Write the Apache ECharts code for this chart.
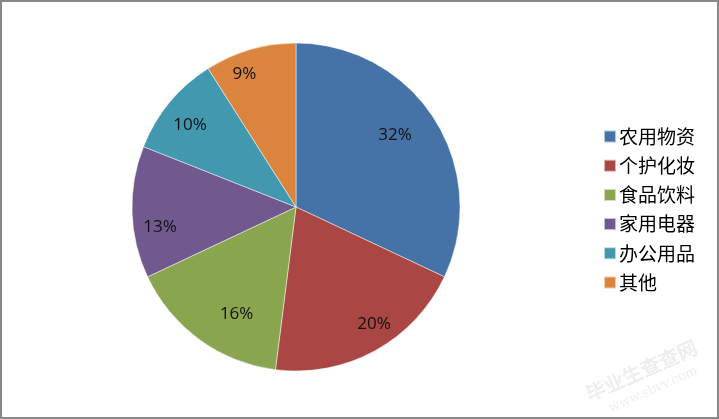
<!DOCTYPE html>
<html>
<head>
<meta charset="utf-8">
<script src="https://cdn.jsdelivr.net/npm/echarts@6/dist/echarts.min.js"></script>
<style>
html,body{margin:0;padding:0;background:#fff;}
#chart{position:absolute;left:0;top:0;width:719px;height:419px;}
#frame{position:absolute;left:0;top:0;width:719px;height:419px;box-sizing:border-box;border:2px solid #888;pointer-events:none;}
</style>
</head>
<body>
<div id="chart"></div>
<div id="frame"></div>
<script>
const categories = ['农用物资', '个护化妆', '食品饮料', '家用电器', '办公用品', '其他'];
const values = [32, 20, 16, 13, 10, 9];
const colors = ['#4572A7', '#AA4643', '#89A54E', '#71588F', '#4198AF', '#DB843D'];
// label nudges (style only) to mimic the original label placement
const labelNudges = [[-15, 0], [13, -1], [20, -2], [-1, 16], [-2, 4], [-14, -3]];

const data = categories.map((n, i) => ({ name: n, value: values[i] }));
const labelData = categories.map((n, i) => ({ name: n, value: values[i], label: { offset: labelNudges[i] } }));

const chart = echarts.init(document.getElementById('chart'), null, { renderer: 'canvas' });
chart.setOption({
  animation: false,
  color: colors,
  legend: {
    orient: 'vertical',
    left: 598,
    top: 122,
    itemWidth: 12,
    itemHeight: 12,
    itemGap: 10.2,
    icon: 'rect',
    data: categories,
    textStyle: { fontFamily: 'Noto Sans CJK SC', fontSize: 19, color: '#000', padding: [0, 0, 0, -2] }
  },
  series: [
    {
      type: 'pie',
      center: [296, 207],
      radius: [0, 164],
      startAngle: 90,
      clockwise: true,
      silent: true,
      itemStyle: { borderColor: 'rgba(255,255,255,0.6)', borderWidth: 0.8 },
      label: { show: false },
      labelLine: { show: false },
      data: data
    },
    {
      type: 'pie',
      center: [296, 207],
      radius: [100, 164],
      startAngle: 90,
      clockwise: true,
      silent: true,
      itemStyle: { color: 'rgba(0,0,0,0)' },
      label: {
        show: true,
        position: 'inside',
        formatter: p => p.value + '%',
        fontFamily: 'Open Sans',
        fontWeight: 'normal',
        fontSize: 17,
        color: '#111'
      },
      labelLine: { show: false },
      legendHoverLink: false,
      data: labelData
    }
  ],
  graphic: [
    {
      type: 'group',
      x: 648, y: 385, rotation: 0.42,
      children: [
        { type: 'text', left: -60, top: -26, style: { text: '毕业生查查网', font: 'bold 20px "Noto Sans CJK SC"', fill: 'rgba(120,120,120,0.13)' } },
        { type: 'text', left: -45, top: 0, style: { text: 'www.sbvv.com', font: '13px "DejaVu Serif"', fill: 'rgba(120,120,120,0.13)' } }
      ]
    }
  ]
});
</script>
</body>
</html>
